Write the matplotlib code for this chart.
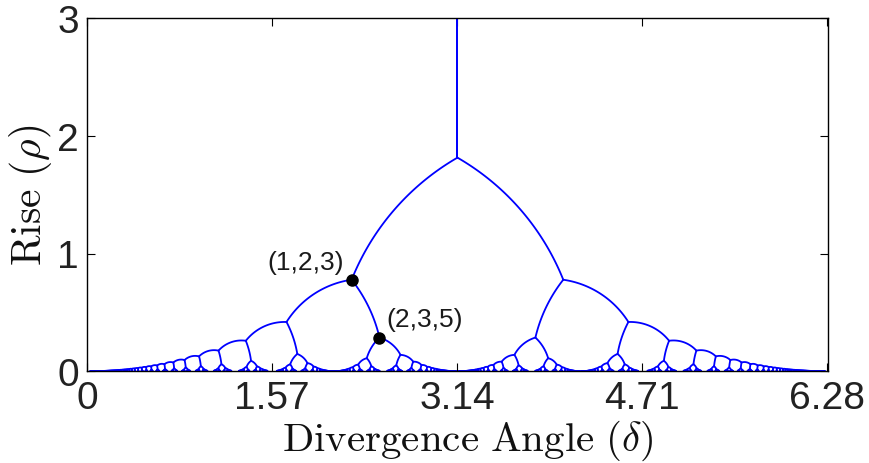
import numpy as np
import matplotlib
matplotlib.use("Agg")
import matplotlib.pyplot as plt
from matplotlib.collections import LineCollection
from math import gcd

# ---------------- data ----------------
x_ticks = [0, 1.57, 3.14, 4.71, 6.28]
x_tick_labels = ["0", "1.57", "3.14", "4.71", "6.28"]
y_ticks = [0, 1, 2, 3]
y_tick_labels = ["0", "1", "2", "3"]

# labelled hexagonal (triple) points
point_labels = ["(1,2,3)", "(2,3,5)"]
point_delta = [2.243, 2.480]
point_rho = [0.777, 0.286]
label_delta = [1.851, 2.860]
label_rho = [0.928, 0.448]

# highest parastichy numbers drawn in the van Iterson diagram
max_parastichy = 40        # all pairs (a, b) up to this
max_parastichy_low = 250   # pairs with a <= 3 (tiny bubbles near the ends)
x_label = r"$\mathrm{Divergence\ Angle\ (}\delta\mathrm{)}$"
y_label = r"$\mathrm{Rise\ (}\rho\mathrm{)}$"

# -------------- geometry of the van Iterson diagram --------------
def rhombic_arcs(pairs, n=80):
    """Segments where lattice vectors of parastichy numbers a, b are the two
    shortest and equal (rhombic lattice, angle between 60 and 120 degrees)."""
    th = np.linspace(np.pi / 3, 2 * np.pi / 3, n)
    segs = []
    for a, b in pairs:
        for sg in (1, -1):
            base = np.arctan(a * np.sin(th) / (b - a * np.cos(th)))
            al = base if sg == 1 else np.pi - base
            L = 2 * np.pi / np.abs(b * np.cos(al) - a * np.cos(al + sg * th))
            h = L * np.sin(al) / a
            x = L * np.cos(al) / a
            if a == 1:
                p0 = 0
            else:
                p0 = (-sg * pow(b, -1, a)) % a
            for t in range(-3, 4):
                d = x + 2 * np.pi * (p0 + a * t) / a
                if d.max() < -0.05 or d.min() > 2 * np.pi + 0.05:
                    continue
                if h.min() > 3.2:
                    continue
                segs.append(np.column_stack([d, h]))
    return segs

pairs = {(1, 1)}
pairs |= {(a, b) for a in range(1, max_parastichy + 1)
          for b in range(a + 1, max_parastichy + 1) if gcd(a, b) == 1}
pairs |= {(a, b) for a in range(1, 4)
          for b in range(a + 1, max_parastichy_low + 1) if gcd(a, b) == 1}
segs = rhombic_arcs(sorted(pairs))

# ---------------- figure ----------------
plt.rcParams["mathtext.fontset"] = "cm"
fig = plt.figure(figsize=(8.7, 4.64), dpi=100)
ax = fig.add_axes([87.1 / 870, (464 - 372.3) / 464, (827.8 - 87.1) / 870, (372.3 - 18.9) / 464])

lc = LineCollection(segs, colors="#0000ff", linewidths=1.3, capstyle="round", joinstyle="round")
ax.add_collection(lc)

ax.plot(point_delta, point_rho, "o", color="black", markersize=8, zorder=5)
for lab, xd, yd in zip(point_labels, label_delta, label_rho):
    ax.text(xd, yd, lab, ha="center", va="center", fontsize=19,
            family="Liberation Sans", color="#1a1a1a")

ax.set_xlim(0, 2 * np.pi)
ax.set_ylim(0, 3)
ax.set_xticks(x_ticks)
ax.set_xticklabels(x_tick_labels)
ax.set_yticks(y_ticks)
ax.set_yticklabels(y_tick_labels)
ax.tick_params(direction="in", length=5.5, width=0.8, top=True, right=True,
               labelsize=28, pad=6, colors="black", labelcolor="#222222")
for lbl in ax.get_xticklabels() + ax.get_yticklabels():
    lbl.set_family("Liberation Sans")
for sp in ax.spines.values():
    sp.set_linewidth(1.0)

ax.set_xlabel(x_label, fontsize=29.5, color="#111111")
ax.set_ylabel(y_label, fontsize=30, color="#111111")
ax.xaxis.set_label_coords((468 - 87.1) / 740.7, -(451 - 372.3) / 353.4)
ax.xaxis.label.set_va("baseline")
ax.yaxis.set_label_coords(-(87.1 - 41) / 740.7, 0.5)
ax.yaxis.label.set_va("baseline")

fig.savefig("out.png", dpi=100)
